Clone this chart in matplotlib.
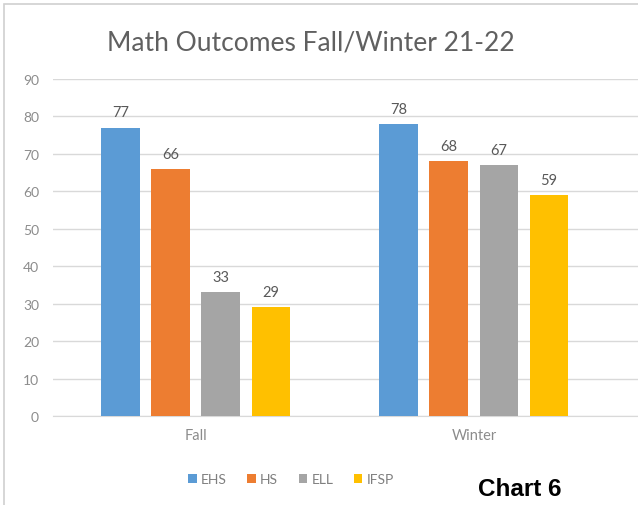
import matplotlib
matplotlib.use("Agg")
import matplotlib.pyplot as plt
import numpy as np
from matplotlib.patches import Rectangle

categories = ["Fall", "Winter"]
series_names = ["EHS", "HS", "ELL", "IFSP"]
ehs = [77, 78]
hs = [66, 68]
ell = [33, 67]
ifsp = [29, 59]
colors = ["#5B9BD5", "#ED7D31", "#A5A5A5", "#FFC000"]
yticks = [0, 10, 20, 30, 40, 50, 60, 70, 80, 90]

plt.rcParams['font.family'] = ['Lato', 'DejaVu Sans']

W, H = 638, 506
fig = plt.figure(figsize=(W / 100, H / 100), dpi=100)
fig.patch.set_facecolor("white")

# outer chart border
fig.patches.append(Rectangle((4 / W, -0.1), 1.2, (H - 5) / H + 0.1, transform=fig.transFigure,
                             fill=False, edgecolor="#D0D0D0", linewidth=1.2))

left, right, bottom, top = 53, 638, 417, 80
ax = fig.add_axes([left / W, 1 - bottom / H, (right - left) / W, (bottom - top) / H])

x = np.arange(len(categories))
bw = 0.14
step = 0.18
all_series = [ehs, hs, ell, ifsp]
for i, (name, vals, c) in enumerate(zip(series_names, all_series, colors)):
    pos = x + (i - 1.5) * step
    ax.bar(pos, vals, width=bw, color=c, label=name, zorder=3)
    for p, v in zip(pos, vals):
        ax.annotate(str(v), (p, v), xytext=(0, 6), textcoords="offset points",
                    ha="center", va="bottom", fontsize=10.5, color="#595959")

ax.set_ylim(0, 90)
ax.set_xlim(-0.514, 1.59)
ax.set_yticks(yticks)
ax.set_yticklabels([str(t) for t in yticks], fontsize=10, color="#8C8C8C")
ax.set_xticks(x)
ax.set_xticklabels(categories, fontsize=10.5, color="#8C8C8C")
ax.tick_params(axis="both", length=0)
ax.tick_params(axis="y", pad=10)
ax.tick_params(axis="x", pad=9)
ax.grid(axis="y", color="#D9D9D9", linewidth=1, zorder=0)
for s in ax.spines.values():
    s.set_visible(False)
ax.spines["bottom"].set_visible(True)
ax.spines["bottom"].set_color("#D9D9D9")

fig.text(311 / W, 1 - 43 / H, "Math Outcomes Fall/Winter 21-22", ha="center", va="center",
         fontsize=19, color="#606060")

leg = fig.legend(loc="center", bbox_to_anchor=(291 / W, 1 - 480 / H), ncol=4, frameon=False,
                 fontsize=10, handlelength=0.6, handleheight=0.6, handletextpad=0.3,
                 columnspacing=1.5)
for t in leg.get_texts():
    t.set_color("#7F7F7F")

fig.text(520 / W, 1 - 490 / H, "Chart 6", ha="center", va="center", fontsize=17.5,
         fontweight="bold", color="black", family=["Liberation Sans", "DejaVu Sans"])

fig.savefig("out.png", dpi=100, facecolor="white")
